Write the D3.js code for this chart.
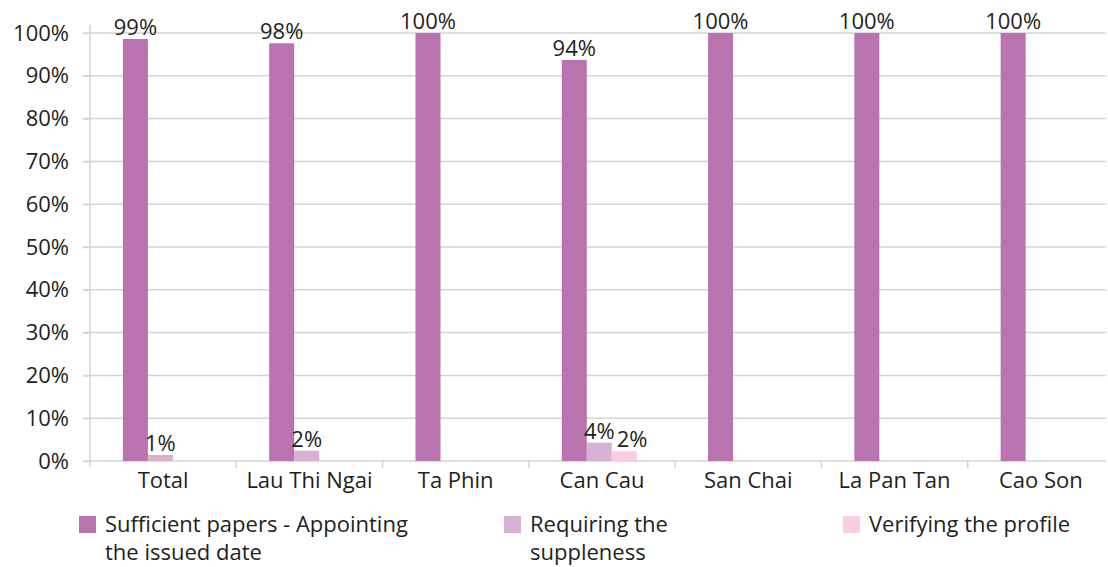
<!DOCTYPE html>
<html>
<head>
<meta charset="utf-8">
<script src="https://cdn.jsdelivr.net/npm/d3@7"></script>
<style>
  body { margin: 0; background: #fff; }
  svg { font-family: "Open Sans", "Noto Sans", sans-serif; }
</style>
</head>
<body>
<svg id="chart"></svg>
<script>
const w = 1108
const h = 567

const categories = ['Total', 'Lau Thi Ngai', 'Ta Phin', 'Can Cau', 'San Chai', 'La Pan Tan', 'Cao Son']
const seriesNames = [
  ['Sufficient papers - Appointing', 'the issued date'],
  ['Requiring the', 'suppleness'],
  ['Verifying the profile']
]
const sufficient = [0.986, 0.976, 1, 0.937, 1, 1, 1]
const requiring = [0.014, 0.024, 0, 0.043, 0, 0, 0]
const verifying = [0, 0, 0, 0.023, 0, 0, 0]
const yTicks = [0, 0.1, 0.2, 0.3, 0.4, 0.5, 0.6, 0.7, 0.8, 0.9, 1]
const colors = ['#b973ae', '#d8b1d2', '#f9cde3']

const series = [sufficient, requiring, verifying]
const textColor = '#231f20'
const gridColor = '#d4d4d4'
const fontSize = 22

const svg = d3.select('#chart').attr('width', w).attr('height', h)

const x0 = d3.scaleBand().domain(categories).range([90, 1114])
const bw = x0.bandwidth()
const x1 = d3.scaleBand().domain([0, 1, 2]).range([bw * 0.225, bw * 0.225 + 75])
const y = d3.scaleLinear().domain([0, 1]).range([461, 33])

// gridlines
svg.append('g')
  .selectAll('line')
  .data(yTicks.slice(1))
  .join('line')
  .attr('x1', 83)
  .attr('x2', 1106)
  .attr('y1', d => y(d))
  .attr('y2', d => y(d))
  .attr('stroke', gridColor)
  .attr('stroke-width', 1.5)

// y axis
const yAxis = d3.axisLeft(y)
  .tickValues(yTicks)
  .tickFormat(d3.format('.0%'))
  .tickSize(7)
  .tickPadding(14)

const $yAxis = svg.append('g')
  .attr('transform', 'translate(90, 0)')
  .call(yAxis)
$yAxis.select('.domain').remove()
$yAxis.selectAll('line').attr('stroke', gridColor).attr('stroke-width', 1.5)
$yAxis.selectAll('text').attr('font-size', fontSize).attr('fill', textColor)
  .attr('font-family', '"Open Sans", "Noto Sans", sans-serif')

svg.append('line')
  .attr('x1', 90).attr('x2', 90)
  .attr('y1', 25).attr('y2', 467)
  .attr('stroke', gridColor).attr('stroke-width', 1.5)

// x axis baseline and separators
svg.append('line')
  .attr('x1', 83).attr('x2', 1106)
  .attr('y1', y(0)).attr('y2', y(0))
  .attr('stroke', gridColor).attr('stroke-width', 1.5)

svg.append('g')
  .selectAll('line')
  .data(categories.slice(1))
  .join('line')
  .attr('x1', d => x0(d))
  .attr('x2', d => x0(d))
  .attr('y1', y(0))
  .attr('y2', y(0) + 7)
  .attr('stroke', gridColor)
  .attr('stroke-width', 1.5)

svg.append('g')
  .selectAll('text')
  .data(categories)
  .join('text')
  .attr('x', d => x0(d) + bw / 2)
  .attr('y', 488)
  .attr('text-anchor', 'middle')
  .attr('font-size', fontSize)
  .attr('fill', textColor)
  .text(d => d)

// bars
const groups = svg.append('g')
  .selectAll('g')
  .data(categories)
  .join('g')
  .attr('transform', d => `translate(${x0(d)}, 0)`)

const fmt = d3.format('.0%')

groups.each(function (cat, ci) {
  const g = d3.select(this)
  let prevRight = -Infinity
  let prevTop = 0
  let prevBottom = 0
  series.forEach((s, si) => {
    const v = s[ci]
    if (v <= 0) return
    g.append('rect')
      .attr('x', x1(si))
      .attr('y', y(v))
      .attr('width', x1.bandwidth())
      .attr('height', y(0) - y(v))
      .attr('fill', colors[si])
    const label = g.append('text')
      .attr('x', x1(si) + x1.bandwidth() / 2)
      .attr('y', y(v) - 4)
      .attr('text-anchor', 'middle')
      .attr('font-size', fontSize)
      .attr('fill', textColor)
      .text(fmt(v))
    // nudge a label to the right when it runs into the previous one
    let box = label.node().getBBox()
    const overlapY = box.y < prevBottom && box.y + box.height > prevTop
    if (overlapY && box.x < prevRight + 2) {
      label.attr('x', +label.attr('x') + (prevRight + 2 - box.x))
      box = label.node().getBBox()
    }
    prevRight = box.x + box.width
    prevTop = box.y
    prevBottom = box.y + box.height
  })
})

// legend
const legendX = [79, 504, 843]
const legend = svg.append('g')
  .selectAll('g')
  .data(seriesNames)
  .join('g')
  .attr('transform', (d, i) => `translate(${legendX[i]}, 516)`)

legend.append('rect')
  .attr('width', 17)
  .attr('height', 17)
  .attr('fill', (d, i) => colors[i])

legend.append('text')
  .attr('font-size', fontSize)
  .attr('fill', textColor)
  .selectAll('tspan')
  .data(d => d)
  .join('tspan')
  .attr('x', 26)
  .attr('y', (d, i) => 16 + i * 28)
  .text(d => d)
</script>
</body>
</html>
